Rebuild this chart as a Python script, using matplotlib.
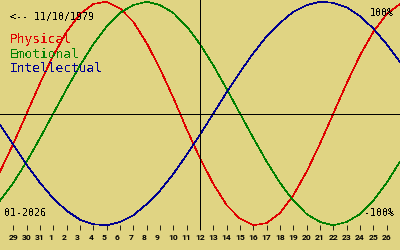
import matplotlib
matplotlib.use('Agg')
import matplotlib.pyplot as plt
import matplotlib.transforms as mtransforms

# Day labels, 28 Dec 2025 .. 27 Jan 2026 (centre = 12 Jan)
days = [28, 29, 30, 31] + list(range(1, 28))

# Cycle values per day (-1 .. 1)
physical = [-0.52, -0.27, 0.00, 0.27, 0.52, 0.73, 0.89, 0.98, 1.00, 0.94,
            0.82, 0.63, 0.40, 0.14, -0.14, -0.40, -0.63, -0.82, -0.94, -1.00,
            -0.98, -0.89, -0.73, -0.52, -0.27, 0.00, 0.27, 0.52, 0.73, 0.89,
            0.98]
emotional = [-0.78, -0.62, -0.43, -0.22, 0.00, 0.22, 0.43, 0.62, 0.78, 0.90,
             0.97, 1.00, 0.97, 0.90, 0.78, 0.62, 0.43, 0.22, 0.00, -0.22,
             -0.43, -0.62, -0.78, -0.90, -0.97, -1.00, -0.97, -0.90, -0.78, -0.62,
             -0.43]
intellectual = [-0.10, -0.28, -0.46, -0.62, -0.76, -0.87, -0.95, -0.99, -1.00, -0.97,
                -0.91, -0.81, -0.69, -0.54, -0.37, -0.19, 0.00, 0.19, 0.37, 0.54,
                0.69, 0.81, 0.91, 0.97, 1.00, 0.99, 0.95, 0.87, 0.76, 0.62,
                0.46]

birth_label = '<-- 11/10/1979'
month_label = '01-2026'
series_names = ['Physical', 'Emotional', 'Intellectual']
colors = ['#e00000', '#008000', '#000090']
bg = '#e0d483'


def main():
    plt.rcParams['text.antialiased'] = False
    W, H = 400, 250
    fig = plt.figure(figsize=(4, 2.5), dpi=100, facecolor=bg)

    # Axes spans the full width, bottom edge where the ticks end
    bottom_px = 230
    ax = fig.add_axes([0, (H - bottom_px) / H, 1, bottom_px / H])
    ax.set_facecolor(bg)
    centre, amp = 113.5, 111.8
    ax.set_ylim((centre - bottom_px) / amp, centre / amp)
    x = list(range(len(days)))
    ax.set_xlim(0, len(days) - 1)

    for vals, c in zip([physical, emotional, intellectual], colors):
        ax.plot(x, vals, color=c, lw=0.45, antialiased=False)

    ax.axhline(0, color='black', lw=0.6, antialiased=False)
    ax.axvline(x[len(x) // 2], color='black', lw=0.6, antialiased=False)

    for s in ax.spines.values():
        s.set_visible(False)
    ax.set_yticks([])
    ax.set_xticks(x[1:-1])
    ax.set_xticklabels([str(d) for d in days[1:-1]], family='Roboto',
                       fontsize=6.1, fontweight='bold', ha='left')
    ax.tick_params(axis='x', direction='in', length=3.6, width=0.6,
                   color='black', pad=2.6)
    shift = mtransforms.ScaledTranslation(-5 / 100, 0, fig.dpi_scale_trans)
    for lab in ax.get_xticklabels():
        lab.set_transform(lab.get_transform() + shift)
        lab.set_antialiased(True)

    def px(xp, yp):
        return xp / W, 1 - yp / H

    mono = 'DejaVu Sans Mono'
    fig.text(*px(10, 20), birth_label, family=mono, fontsize=7.2,
             va='baseline', color='black')
    for i, (name, c) in enumerate(zip(series_names, colors)):
        fig.text(*px(10, 42.5 + 15 * i), name, family=mono, fontsize=9.3,
                 va='baseline', color=c)
    fig.text(*px(394, 16), '100%', family=mono, fontsize=7.2,
             va='baseline', ha='right', color='black')
    fig.text(*px(394, 216), '-100%', family=mono, fontsize=7.2,
             va='baseline', ha='right', color='black')
    fig.text(*px(4, 216), month_label, family=mono, fontsize=7.2,
             va='baseline', color='black')

    fig.savefig('out.png', dpi=100, facecolor=bg)
    return 0


if __name__ == '__main__':
    exit(main())
